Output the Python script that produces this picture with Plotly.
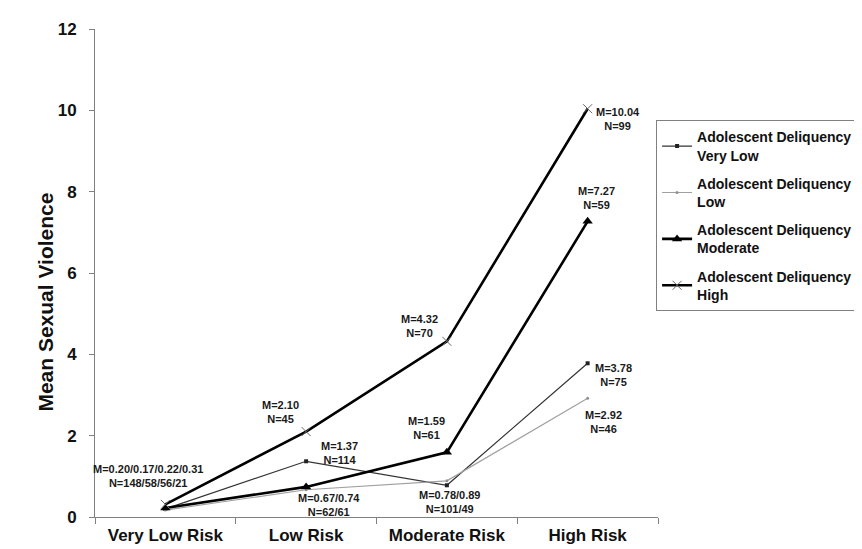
import plotly.graph_objects as go

categories = ["Very Low Risk", "Low Risk", "Moderate Risk", "High Risk"]
series_names = [
    "Adolescent Deliquency<br>Very Low",
    "Adolescent Deliquency<br>Low",
    "Adolescent Deliquency<br>Moderate",
    "Adolescent Deliquency<br>High",
]
very_low = [0.20, 1.37, 0.78, 3.78]
low = [0.17, 0.67, 0.89, 2.92]
moderate = [0.22, 0.74, 1.59, 7.27]
high = [0.31, 2.10, 4.32, 10.04]

# data labels: (category, anchor value, text)
label_cats = ["Very Low Risk", "Low Risk", "Low Risk", "Low Risk", "Moderate Risk",
              "Moderate Risk", "Moderate Risk", "High Risk", "High Risk", "High Risk", "High Risk"]
label_vals = [0.31, 2.10, 1.37, 0.74, 4.32, 1.59, 0.78, 3.78, 2.92, 10.04, 7.27]
label_texts = [
    "M=0.20/0.17/0.22/0.31<br>N=148/58/56/21",
    "M=2.10<br>N=45",
    "M=1.37<br>N=114",
    "M=0.67/0.74<br>N=62/61",
    "M=4.32<br>N=70",
    "M=1.59<br>N=61",
    "M=0.78/0.89<br>N=101/49",
    "M=3.78<br>N=75",
    "M=2.92<br>N=46",
    "M=10.04<br>N=99",
    "M=7.27<br>N=59",
]
label_shifts = [(-17, 28), (-26, 20), (33, 8), (23, -18), (-27, 15), (-20, 24),
                (3, -17), (26, -12), (16, -24), (30, -10), (9, 23)]

FONT = "Arial, Liberation Sans, Helvetica, sans-serif"

styles = [
    dict(line=dict(color="#333333", width=1.2), marker=dict(symbol="square", size=4, color="#222222")),
    dict(line=dict(color="#a0a0a0", width=1.2), marker=dict(symbol="circle", size=3, color="#909090")),
    dict(line=dict(color="#000000", width=2.6), marker=dict(symbol="triangle-up", size=9, color="#000000")),
    dict(line=dict(color="#000000", width=2.6),
         marker=dict(symbol="x-thin", size=9, color="#666666", line=dict(width=1, color="#666666"))),
]

fig = go.Figure()
for i, (name, vals) in enumerate(zip(series_names, [very_low, low, moderate, high])):
    fig.add_trace(go.Scatter(
        x=categories, y=vals, name=name, mode="lines+markers",
        legendgroup=f"g{i}", **styles[i]))

for c, v, t, (dx, dy) in zip(label_cats, label_vals, label_texts, label_shifts):
    fig.add_annotation(x=c, y=v, xref="x", yref="y", text=t, showarrow=False,
                       xshift=dx, yshift=dy, align="center",
                       font=dict(family=FONT, size=11, color="#1a1a1a", weight="bold"))

fig.add_annotation(x=(21 - 87) / 588, y=0.44, xref="paper", yref="paper",
                   text="Mean Sexual Violence", textangle=-90, showarrow=False,
                   font=dict(family=FONT, size=21, color="#111111", weight="bold"))

fig.update_layout(
    width=862, height=549,
    margin=dict(l=87, r=187, t=19, b=28),
    paper_bgcolor="white", plot_bgcolor="white",
    font=dict(family=FONT, color="#111111"),
    showlegend=True,
    legend=dict(
        x=(673 - 87) / 588, xanchor="left",
        y=(521 - 113) / 502, yanchor="top",
        bordercolor="#808080", borderwidth=1,
        bgcolor="white",
        font=dict(family=FONT, size=14, color="#111111", weight="bold"),
        traceorder="grouped", tracegroupgap=7,
        itemwidth=30,
    ),
    xaxis=dict(
        type="category", range=[-0.5, 3.5],
        showgrid=False, zeroline=False,
        showline=True, linecolor="#808080", linewidth=1,
        ticks="outside", tickson="boundaries", ticklen=6, tickcolor="#808080",
        tickfont=dict(family=FONT, size=17, color="#111111", weight="bold"),
        ticklabelstandoff=3,
    ),
    yaxis=dict(
        range=[0, 12], dtick=2,
        showgrid=False, zeroline=False,
        showline=True, linecolor="#808080", linewidth=1,
        ticks="outside", ticklen=5, tickcolor="#808080",
        tickfont=dict(family=FONT, size=17, color="#111111", weight="bold"),
        ticklabelstandoff=9,
    ),
)

fig.write_html("out.html")
